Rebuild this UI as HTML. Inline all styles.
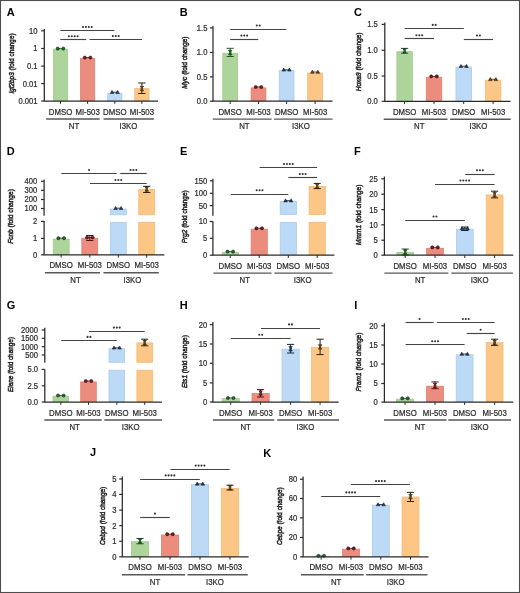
<!DOCTYPE html>
<html><head><meta charset="utf-8"><style>
html,body{margin:0;padding:0;background:#fff;}
svg{display:block;will-change:transform;filter:blur(0.3px);}
text{font-family:"Liberation Sans", sans-serif;fill:#2b2b2b;stroke:#2b2b2b;stroke-width:0.22px;}
.L{font-size:11px;font-weight:bold;fill:#000;stroke:none;}
.T{font-size:8.2px;text-anchor:end;}
.X{font-size:8.4px;text-anchor:middle;}
.S{font-size:7px;text-anchor:middle;fill:#333;stroke:#333;stroke-width:0.3px;}
.Y{font-size:8px;text-anchor:middle;stroke-width:0.55px;}
</style></head><body>
<svg width="520" height="593" viewBox="0 0 520 593">
<rect x="0" y="0" width="520" height="593" fill="#fff"/>
<text x="6.7" y="16.1" class="L">A</text>
<rect x="53.4" y="49.2" width="14.2" height="51.4" fill="#add59b" stroke="#a0cc8b" stroke-width="0.8"/>
<rect x="80.5" y="58.3" width="14.2" height="42.3" fill="#ea8d7e" stroke="#e37f6f" stroke-width="0.8"/>
<rect x="107.7" y="93.2" width="14.2" height="7.4" fill="#bcdaf5" stroke="#aacbed" stroke-width="0.8"/>
<rect x="134.8" y="88.4" width="14.2" height="12.2" fill="#fbc686" stroke="#f6b972" stroke-width="0.8"/>
<path d="M57.5 48.6H63.5" stroke="#1f6b2a" stroke-width="0.9"/>
<circle cx="57.7" cy="48.6" r="1.6" fill="#1f6b2a" stroke="#111" stroke-width="0.5"/>
<circle cx="63.3" cy="48.6" r="1.6" fill="#1f6b2a" stroke="#111" stroke-width="0.5"/>
<path d="M84.6 57.6H90.6" stroke="#7d1518" stroke-width="0.9"/>
<circle cx="84.8" cy="57.6" r="1.6" fill="#7d1518" stroke="#111" stroke-width="0.5"/>
<circle cx="90.4" cy="57.6" r="1.6" fill="#7d1518" stroke="#111" stroke-width="0.5"/>
<path d="M111.8 92.2H117.8" stroke="#1f3d63" stroke-width="0.9"/>
<path d="M110.2 93.5L112 90.4L113.8 93.5Z" fill="#1f3d63" stroke="#111" stroke-width="0.5"/>
<path d="M115.8 93.5L117.6 90.4L119.4 93.5Z" fill="#1f3d63" stroke="#111" stroke-width="0.5"/>
<path d="M141.9 83V93.5M138.3 83H145.5M138.3 93.5H145.5" stroke="#2c2311" stroke-width="1.0" fill="none"/>
<path d="M140.1 86.3L143.7 86.3L141.9 88.5Z M140.1 90.7L143.7 90.7L141.9 88.5Z" fill="#6e4512" stroke="#111" stroke-width="0.5"/>
<circle cx="141.9" cy="88.5" r="1.3" fill="#6e4512"/>
<path d="M44.3 29V101" stroke="#2a2a2a" stroke-width="1.25"/>
<path d="M43.7 101H158" stroke="#2a2a2a" stroke-width="1.25"/>
<path d="M41.2 30.8H44.3" stroke="#2a2a2a" stroke-width="1.2"/>
<text transform="translate(37.5 33.75) scale(0.93 1)" class="T">10</text>
<path d="M41.2 48.5H44.3" stroke="#2a2a2a" stroke-width="1.2"/>
<text transform="translate(37.5 51.45) scale(0.93 1)" class="T">1</text>
<path d="M41.2 66.1H44.3" stroke="#2a2a2a" stroke-width="1.2"/>
<text transform="translate(37.5 69.05) scale(0.93 1)" class="T">0.1</text>
<path d="M41.2 83.6H44.3" stroke="#2a2a2a" stroke-width="1.2"/>
<text transform="translate(37.5 86.55) scale(0.93 1)" class="T">0.01</text>
<path d="M41.2 101H44.3" stroke="#2a2a2a" stroke-width="1.2"/>
<text transform="translate(37.5 103.95) scale(0.93 1)" class="T">0.001</text>
<path d="M60.5 101V103.8" stroke="#2a2a2a" stroke-width="1.0"/>
<path d="M87.6 101V103.8" stroke="#2a2a2a" stroke-width="1.0"/>
<path d="M114.8 101V103.8" stroke="#2a2a2a" stroke-width="1.0"/>
<path d="M141.9 101V103.8" stroke="#2a2a2a" stroke-width="1.0"/>
<text transform="translate(60.5 114.6) scale(0.93 1)" class="X">DMSO</text>
<text transform="translate(87.6 114.6) scale(0.93 1)" class="X">MI-503</text>
<text transform="translate(114.8 114.6) scale(0.93 1)" class="X">DMSO</text>
<text transform="translate(141.9 114.6) scale(0.93 1)" class="X">MI-503</text>
<path d="M46.2 118.9H99.7M103.5 118.9H153.9" stroke="#585858" stroke-width="1.45"/>
<text transform="translate(74.05 128.9) scale(0.93 1)" class="X">NT</text>
<text transform="translate(128.35 128.9) scale(0.93 1)" class="X">I3KO</text>
<path d="M60.3 30.5H114.4" stroke="#444444" stroke-width="1.15"/>
<circle cx="83" cy="27" r="1.05" fill="#333"/>
<circle cx="85.9" cy="27" r="1.05" fill="#333"/>
<circle cx="88.8" cy="27" r="1.05" fill="#333"/>
<circle cx="91.7" cy="27" r="1.05" fill="#333"/>
<path d="M60.3 39.5H86.2" stroke="#444444" stroke-width="1.15"/>
<circle cx="68.9" cy="36.2" r="1.05" fill="#333"/>
<circle cx="71.8" cy="36.2" r="1.05" fill="#333"/>
<circle cx="74.7" cy="36.2" r="1.05" fill="#333"/>
<circle cx="77.6" cy="36.2" r="1.05" fill="#333"/>
<path d="M89.5 39.5H142" stroke="#444444" stroke-width="1.15"/>
<circle cx="112.85" cy="36.1" r="1.05" fill="#333"/>
<circle cx="115.75" cy="36.1" r="1.05" fill="#333"/>
<circle cx="118.65" cy="36.1" r="1.05" fill="#333"/>
<text transform="translate(13.5 63.5) rotate(-90)" x="0" y="0" class="Y" textLength="60.1" lengthAdjust="spacingAndGlyphs"><tspan font-style="italic">Igf2bp3</tspan> (fold change)</text>
<text x="179.7" y="15.9" class="L">B</text>
<rect x="222.8" y="53.3" width="14.8" height="47.5" fill="#add59b" stroke="#a0cc8b" stroke-width="0.8"/>
<rect x="251.1" y="87.9" width="14.8" height="12.9" fill="#ea8d7e" stroke="#e37f6f" stroke-width="0.8"/>
<rect x="279.2" y="70.6" width="14.8" height="30.2" fill="#bcdaf5" stroke="#aacbed" stroke-width="0.8"/>
<rect x="307.7" y="73" width="14.8" height="27.8" fill="#fbc686" stroke="#f6b972" stroke-width="0.8"/>
<path d="M230.2 48.3V56.5M226.6 48.3H233.8M226.6 56.5H233.8" stroke="#1d5a22" stroke-width="1.0" fill="none"/>
<path d="M228.4 50.3L232 50.3L230.2 52.5Z M228.4 54.7L232 54.7L230.2 52.5Z" fill="#1f6b2a" stroke="#111" stroke-width="0.5"/>
<circle cx="230.2" cy="52.5" r="1.3" fill="#1f6b2a"/>
<path d="M255.5 87H261.5" stroke="#7d1518" stroke-width="0.9"/>
<circle cx="255.7" cy="87" r="1.6" fill="#7d1518" stroke="#111" stroke-width="0.5"/>
<circle cx="261.3" cy="87" r="1.6" fill="#7d1518" stroke="#111" stroke-width="0.5"/>
<path d="M283.6 69.8H289.6" stroke="#1f3d63" stroke-width="0.9"/>
<path d="M282 71.1L283.8 68L285.6 71.1Z" fill="#1f3d63" stroke="#111" stroke-width="0.5"/>
<path d="M287.6 71.1L289.4 68L291.2 71.1Z" fill="#1f3d63" stroke="#111" stroke-width="0.5"/>
<path d="M312.1 72H318.1" stroke="#6e4512" stroke-width="0.9"/>
<path d="M310.5 73.3L312.3 70.2L314.1 73.3Z" fill="#6e4512" stroke="#111" stroke-width="0.5"/>
<path d="M316.1 73.3L317.9 70.2L319.7 73.3Z" fill="#6e4512" stroke="#111" stroke-width="0.5"/>
<path d="M213 26V101.2" stroke="#2a2a2a" stroke-width="1.25"/>
<path d="M212.4 101.2H332.5" stroke="#2a2a2a" stroke-width="1.25"/>
<path d="M209.9 27.9H213" stroke="#2a2a2a" stroke-width="1.2"/>
<text transform="translate(207.4 30.85) scale(0.93 1)" class="T">1.5</text>
<path d="M209.9 52.5H213" stroke="#2a2a2a" stroke-width="1.2"/>
<text transform="translate(207.4 55.45) scale(0.93 1)" class="T">1.0</text>
<path d="M209.9 76.9H213" stroke="#2a2a2a" stroke-width="1.2"/>
<text transform="translate(207.4 79.85) scale(0.93 1)" class="T">0.5</text>
<path d="M209.9 101.2H213" stroke="#2a2a2a" stroke-width="1.2"/>
<text transform="translate(207.4 104.15) scale(0.93 1)" class="T">0.0</text>
<path d="M230.2 101.2V104" stroke="#2a2a2a" stroke-width="1.0"/>
<path d="M258.5 101.2V104" stroke="#2a2a2a" stroke-width="1.0"/>
<path d="M286.6 101.2V104" stroke="#2a2a2a" stroke-width="1.0"/>
<path d="M315.1 101.2V104" stroke="#2a2a2a" stroke-width="1.0"/>
<text transform="translate(230.2 114.8) scale(0.93 1)" class="X">DMSO</text>
<text transform="translate(258.5 114.8) scale(0.93 1)" class="X">MI-503</text>
<text transform="translate(286.6 114.8) scale(0.93 1)" class="X">DMSO</text>
<text transform="translate(315.1 114.8) scale(0.93 1)" class="X">MI-503</text>
<path d="M212.8 119.1H271.6M274 119.1H332.6" stroke="#585858" stroke-width="1.45"/>
<text transform="translate(244.35 129.1) scale(0.93 1)" class="X">NT</text>
<text transform="translate(300.85 129.1) scale(0.93 1)" class="X">I3KO</text>
<path d="M230.2 39.5H258.3" stroke="#444444" stroke-width="1.15"/>
<circle cx="241.35" cy="35.6" r="1.05" fill="#333"/>
<circle cx="244.25" cy="35.6" r="1.05" fill="#333"/>
<circle cx="247.15" cy="35.6" r="1.05" fill="#333"/>
<path d="M230.2 29.5H286.3" stroke="#444444" stroke-width="1.15"/>
<circle cx="256.8" cy="25.5" r="1.05" fill="#333"/>
<circle cx="259.7" cy="25.5" r="1.05" fill="#333"/>
<text transform="translate(187.3 62.6) rotate(-90)" x="0" y="0" class="Y" textLength="52.2" lengthAdjust="spacingAndGlyphs"><tspan font-style="italic">Myc</tspan> (fold change)</text>
<text x="353.9" y="16.4" class="L">C</text>
<rect x="396.85" y="51.7" width="15.5" height="49.2" fill="#add59b" stroke="#a0cc8b" stroke-width="0.8"/>
<rect x="426.25" y="77.3" width="15.5" height="23.6" fill="#ea8d7e" stroke="#e37f6f" stroke-width="0.8"/>
<rect x="455.95" y="67.1" width="15.5" height="33.8" fill="#bcdaf5" stroke="#aacbed" stroke-width="0.8"/>
<rect x="485.35" y="80.2" width="15.5" height="20.7" fill="#fbc686" stroke="#f6b972" stroke-width="0.8"/>
<path d="M404.6 48.4V53.2M401 48.4H408.2M401 53.2H408.2" stroke="#1d5a22" stroke-width="1.0" fill="none"/>
<path d="M402.8 48.6L406.4 48.6L404.6 50.8Z M402.8 53L406.4 53L404.6 50.8Z" fill="#1f6b2a" stroke="#111" stroke-width="0.5"/>
<circle cx="404.6" cy="50.8" r="1.3" fill="#1f6b2a"/>
<path d="M431 76.4H437" stroke="#7d1518" stroke-width="0.9"/>
<circle cx="431.2" cy="76.4" r="1.6" fill="#7d1518" stroke="#111" stroke-width="0.5"/>
<circle cx="436.8" cy="76.4" r="1.6" fill="#7d1518" stroke="#111" stroke-width="0.5"/>
<path d="M460.7 66.2H466.7" stroke="#1f3d63" stroke-width="0.9"/>
<path d="M459.1 67.5L460.9 64.4L462.7 67.5Z" fill="#1f3d63" stroke="#111" stroke-width="0.5"/>
<path d="M464.7 67.5L466.5 64.4L468.3 67.5Z" fill="#1f3d63" stroke="#111" stroke-width="0.5"/>
<path d="M490.1 79.3H496.1" stroke="#6e4512" stroke-width="0.9"/>
<path d="M488.5 80.6L490.3 77.5L492.1 80.6Z" fill="#6e4512" stroke="#111" stroke-width="0.5"/>
<path d="M494.1 80.6L495.9 77.5L497.7 80.6Z" fill="#6e4512" stroke="#111" stroke-width="0.5"/>
<path d="M384.8 22.5V101.3" stroke="#2a2a2a" stroke-width="1.25"/>
<path d="M384.2 101.3H510.4" stroke="#2a2a2a" stroke-width="1.25"/>
<path d="M381.7 24.4H384.8" stroke="#2a2a2a" stroke-width="1.2"/>
<text transform="translate(377.8 27.35) scale(0.93 1)" class="T">1.5</text>
<path d="M381.7 50.3H384.8" stroke="#2a2a2a" stroke-width="1.2"/>
<text transform="translate(377.8 53.25) scale(0.93 1)" class="T">1.0</text>
<path d="M381.7 76H384.8" stroke="#2a2a2a" stroke-width="1.2"/>
<text transform="translate(377.8 78.95) scale(0.93 1)" class="T">0.5</text>
<path d="M381.7 101.3H384.8" stroke="#2a2a2a" stroke-width="1.2"/>
<text transform="translate(377.8 104.25) scale(0.93 1)" class="T">0.0</text>
<path d="M404.6 101.3V104.1" stroke="#2a2a2a" stroke-width="1.0"/>
<path d="M434 101.3V104.1" stroke="#2a2a2a" stroke-width="1.0"/>
<path d="M463.7 101.3V104.1" stroke="#2a2a2a" stroke-width="1.0"/>
<path d="M493.1 101.3V104.1" stroke="#2a2a2a" stroke-width="1.0"/>
<text transform="translate(404.6 114.9) scale(0.93 1)" class="X">DMSO</text>
<text transform="translate(434 114.9) scale(0.93 1)" class="X">MI-503</text>
<text transform="translate(463.7 114.9) scale(0.93 1)" class="X">DMSO</text>
<text transform="translate(493.1 114.9) scale(0.93 1)" class="X">MI-503</text>
<path d="M383.7 119.2H447.5M450.1 119.2H510.7" stroke="#585858" stroke-width="1.45"/>
<text transform="translate(419.3 129.2) scale(0.93 1)" class="X">NT</text>
<text transform="translate(478.4 129.2) scale(0.93 1)" class="X">I3KO</text>
<path d="M404.6 28.5H463.8" stroke="#444444" stroke-width="1.15"/>
<circle cx="432.75" cy="24.9" r="1.05" fill="#333"/>
<circle cx="435.65" cy="24.9" r="1.05" fill="#333"/>
<path d="M404.6 38.5H434" stroke="#444444" stroke-width="1.15"/>
<circle cx="416.4" cy="35.3" r="1.05" fill="#333"/>
<circle cx="419.3" cy="35.3" r="1.05" fill="#333"/>
<circle cx="422.2" cy="35.3" r="1.05" fill="#333"/>
<path d="M463.8 39.5H493" stroke="#444444" stroke-width="1.15"/>
<circle cx="476.95" cy="35.5" r="1.05" fill="#333"/>
<circle cx="479.85" cy="35.5" r="1.05" fill="#333"/>
<text transform="translate(360.7 61.9) rotate(-90)" x="0" y="0" class="Y" textLength="58.7" lengthAdjust="spacingAndGlyphs"><tspan font-style="italic">Hoxa9</tspan> (fold change)</text>
<text x="6.7" y="155.1" class="L">D</text>
<rect x="53.25" y="239.1" width="15.9" height="15.3" fill="#add59b" stroke="#a0cc8b" stroke-width="0.8"/>
<rect x="81.85" y="238.3" width="15.9" height="16.1" fill="#ea8d7e" stroke="#e37f6f" stroke-width="0.8"/>
<rect x="110.35" y="209.1" width="15.9" height="5.7" fill="#bcdaf5" stroke="#aacbed" stroke-width="0.8"/>
<rect x="110.35" y="222.3" width="15.9" height="32.1" fill="#bcdaf5" stroke="#aacbed" stroke-width="0.8"/>
<rect x="138.75" y="189.6" width="15.9" height="25.2" fill="#fbc686" stroke="#f6b972" stroke-width="0.8"/>
<rect x="138.75" y="222.3" width="15.9" height="32.1" fill="#fbc686" stroke="#f6b972" stroke-width="0.8"/>
<path d="M58.2 238.2H64.2" stroke="#1f6b2a" stroke-width="0.9"/>
<circle cx="58.4" cy="238.2" r="1.6" fill="#1f6b2a" stroke="#111" stroke-width="0.5"/>
<circle cx="64" cy="238.2" r="1.6" fill="#1f6b2a" stroke="#111" stroke-width="0.5"/>
<path d="M89.8 235.5V240.5M86.2 235.5H93.4M86.2 240.5H93.4" stroke="#561012" stroke-width="1.0" fill="none"/>
<path d="M86.8 237.5H92.8" stroke="#7d1518" stroke-width="0.9"/>
<circle cx="87" cy="237.5" r="1.6" fill="#7d1518" stroke="#111" stroke-width="0.5"/>
<circle cx="92.6" cy="237.5" r="1.6" fill="#7d1518" stroke="#111" stroke-width="0.5"/>
<path d="M115.3 208.2H121.3" stroke="#1f3d63" stroke-width="0.9"/>
<path d="M113.7 209.5L115.5 206.4L117.3 209.5Z" fill="#1f3d63" stroke="#111" stroke-width="0.5"/>
<path d="M119.3 209.5L121.1 206.4L122.9 209.5Z" fill="#1f3d63" stroke="#111" stroke-width="0.5"/>
<path d="M146.7 186.3V192.5M143.1 186.3H150.3M143.1 192.5H150.3" stroke="#2c2311" stroke-width="1.0" fill="none"/>
<path d="M144.9 186.8L148.5 186.8L146.7 189Z M144.9 191.2L148.5 191.2L146.7 189Z" fill="#6e4512" stroke="#111" stroke-width="0.5"/>
<circle cx="146.7" cy="189" r="1.3" fill="#6e4512"/>
<path d="M44.1 179.6V215.7" stroke="#2a2a2a" stroke-width="1.25"/>
<path d="M44.1 221V254.8" stroke="#2a2a2a" stroke-width="1.25"/>
<path d="M43.5 254.8H164.4" stroke="#2a2a2a" stroke-width="1.25"/>
<path d="M41 181.3H44.1" stroke="#2a2a2a" stroke-width="1.2"/>
<text transform="translate(37.3 184.25) scale(0.93 1)" class="T">400</text>
<path d="M41 190.3H44.1" stroke="#2a2a2a" stroke-width="1.2"/>
<text transform="translate(37.3 193.25) scale(0.93 1)" class="T">300</text>
<path d="M41 199.5H44.1" stroke="#2a2a2a" stroke-width="1.2"/>
<text transform="translate(37.3 202.45) scale(0.93 1)" class="T">200</text>
<path d="M41 208.5H44.1" stroke="#2a2a2a" stroke-width="1.2"/>
<text transform="translate(37.3 211.45) scale(0.93 1)" class="T">100</text>
<path d="M41 221.4H44.1" stroke="#2a2a2a" stroke-width="1.2"/>
<text transform="translate(37.3 224.35) scale(0.93 1)" class="T">2</text>
<path d="M41 238.4H44.1" stroke="#2a2a2a" stroke-width="1.2"/>
<text transform="translate(37.3 241.35) scale(0.93 1)" class="T">1</text>
<path d="M41 254.8H44.1" stroke="#2a2a2a" stroke-width="1.2"/>
<text transform="translate(37.3 257.75) scale(0.93 1)" class="T">0</text>
<path d="M61.2 254.8V257.6" stroke="#2a2a2a" stroke-width="1.0"/>
<path d="M89.8 254.8V257.6" stroke="#2a2a2a" stroke-width="1.0"/>
<path d="M118.3 254.8V257.6" stroke="#2a2a2a" stroke-width="1.0"/>
<path d="M146.7 254.8V257.6" stroke="#2a2a2a" stroke-width="1.0"/>
<text transform="translate(61.2 268.4) scale(0.93 1)" class="X">DMSO</text>
<text transform="translate(89.8 268.4) scale(0.93 1)" class="X">MI-503</text>
<text transform="translate(118.3 268.4) scale(0.93 1)" class="X">DMSO</text>
<text transform="translate(146.7 268.4) scale(0.93 1)" class="X">MI-503</text>
<path d="M44.9 272.7H100M103.4 272.7H158.8" stroke="#585858" stroke-width="1.45"/>
<text transform="translate(75.5 282.7) scale(0.93 1)" class="X">NT</text>
<text transform="translate(132.5 282.7) scale(0.93 1)" class="X">I3KO</text>
<path d="M61.4 173.5H116.7" stroke="#444444" stroke-width="1.15"/>
<circle cx="89.05" cy="170" r="1.05" fill="#333"/>
<path d="M120.2 173.5H146.7" stroke="#444444" stroke-width="1.15"/>
<circle cx="130.55" cy="170" r="1.05" fill="#333"/>
<circle cx="133.45" cy="170" r="1.05" fill="#333"/>
<circle cx="136.35" cy="170" r="1.05" fill="#333"/>
<path d="M90 183.5H146.7" stroke="#444444" stroke-width="1.15"/>
<circle cx="115.45" cy="180" r="1.05" fill="#333"/>
<circle cx="118.35" cy="180" r="1.05" fill="#333"/>
<circle cx="121.25" cy="180" r="1.05" fill="#333"/>
<text transform="translate(13.2 216.5) rotate(-90)" x="0" y="0" class="Y" textLength="54.7" lengthAdjust="spacingAndGlyphs"><tspan font-style="italic">Fcnb</tspan> (fold change)</text>
<text x="179.9" y="155.2" class="L">E</text>
<rect x="222.2" y="252.4" width="16.2" height="2.4" fill="#add59b" stroke="#a0cc8b" stroke-width="0.8"/>
<rect x="251.1" y="229.2" width="16.2" height="25.6" fill="#ea8d7e" stroke="#e37f6f" stroke-width="0.8"/>
<rect x="280.2" y="201.4" width="16.2" height="13" fill="#bcdaf5" stroke="#aacbed" stroke-width="0.8"/>
<rect x="280.2" y="222.3" width="16.2" height="32.5" fill="#bcdaf5" stroke="#aacbed" stroke-width="0.8"/>
<rect x="309.1" y="186.4" width="16.2" height="28" fill="#fbc686" stroke="#f6b972" stroke-width="0.8"/>
<rect x="309.1" y="222.3" width="16.2" height="32.5" fill="#fbc686" stroke="#f6b972" stroke-width="0.8"/>
<path d="M227.3 251.6H233.3" stroke="#1f6b2a" stroke-width="0.9"/>
<circle cx="227.5" cy="251.6" r="1.6" fill="#1f6b2a" stroke="#111" stroke-width="0.5"/>
<circle cx="233.1" cy="251.6" r="1.6" fill="#1f6b2a" stroke="#111" stroke-width="0.5"/>
<path d="M256.2 228.3H262.2" stroke="#7d1518" stroke-width="0.9"/>
<circle cx="256.4" cy="228.3" r="1.6" fill="#7d1518" stroke="#111" stroke-width="0.5"/>
<circle cx="262" cy="228.3" r="1.6" fill="#7d1518" stroke="#111" stroke-width="0.5"/>
<path d="M285.3 200.6H291.3" stroke="#1f3d63" stroke-width="0.9"/>
<path d="M283.7 201.9L285.5 198.8L287.3 201.9Z" fill="#1f3d63" stroke="#111" stroke-width="0.5"/>
<path d="M289.3 201.9L291.1 198.8L292.9 201.9Z" fill="#1f3d63" stroke="#111" stroke-width="0.5"/>
<path d="M317.2 183.4V188.6M313.6 183.4H320.8M313.6 188.6H320.8" stroke="#2c2311" stroke-width="1.0" fill="none"/>
<path d="M315.4 183.8L319 183.8L317.2 186Z M315.4 188.2L319 188.2L317.2 186Z" fill="#6e4512" stroke="#111" stroke-width="0.5"/>
<circle cx="317.2" cy="186" r="1.3" fill="#6e4512"/>
<path d="M212.9 178.8V215.8" stroke="#2a2a2a" stroke-width="1.25"/>
<path d="M212.9 221.2V255.2" stroke="#2a2a2a" stroke-width="1.25"/>
<path d="M212.3 255.2H334.4" stroke="#2a2a2a" stroke-width="1.25"/>
<path d="M209.8 180.8H212.9" stroke="#2a2a2a" stroke-width="1.2"/>
<text transform="translate(207.3 183.75) scale(0.93 1)" class="T">150</text>
<path d="M209.8 193.3H212.9" stroke="#2a2a2a" stroke-width="1.2"/>
<text transform="translate(207.3 196.25) scale(0.93 1)" class="T">100</text>
<path d="M209.8 205.6H212.9" stroke="#2a2a2a" stroke-width="1.2"/>
<text transform="translate(207.3 208.55) scale(0.93 1)" class="T">50</text>
<path d="M209.8 221.5H212.9" stroke="#2a2a2a" stroke-width="1.2"/>
<text transform="translate(207.3 224.45) scale(0.93 1)" class="T">10</text>
<path d="M209.8 238.3H212.9" stroke="#2a2a2a" stroke-width="1.2"/>
<text transform="translate(207.3 241.25) scale(0.93 1)" class="T">5</text>
<path d="M209.8 255.2H212.9" stroke="#2a2a2a" stroke-width="1.2"/>
<text transform="translate(207.3 258.15) scale(0.93 1)" class="T">0</text>
<path d="M230.3 255.2V258" stroke="#2a2a2a" stroke-width="1.0"/>
<path d="M259.2 255.2V258" stroke="#2a2a2a" stroke-width="1.0"/>
<path d="M288.3 255.2V258" stroke="#2a2a2a" stroke-width="1.0"/>
<path d="M317.2 255.2V258" stroke="#2a2a2a" stroke-width="1.0"/>
<text transform="translate(230.3 268.8) scale(0.93 1)" class="X">DMSO</text>
<text transform="translate(259.2 268.8) scale(0.93 1)" class="X">MI-503</text>
<text transform="translate(288.3 268.8) scale(0.93 1)" class="X">DMSO</text>
<text transform="translate(317.2 268.8) scale(0.93 1)" class="X">MI-503</text>
<path d="M213.3 273.1H271.5M274.4 273.1H332.5" stroke="#585858" stroke-width="1.45"/>
<text transform="translate(244.75 283.1) scale(0.93 1)" class="X">NT</text>
<text transform="translate(302.75 283.1) scale(0.93 1)" class="X">I3KO</text>
<path d="M230.8 194.5H288.3" stroke="#444444" stroke-width="1.15"/>
<circle cx="256.65" cy="190.3" r="1.05" fill="#333"/>
<circle cx="259.55" cy="190.3" r="1.05" fill="#333"/>
<circle cx="262.45" cy="190.3" r="1.05" fill="#333"/>
<path d="M259.6 167.5H317.1" stroke="#444444" stroke-width="1.15"/>
<circle cx="284" cy="164" r="1.05" fill="#333"/>
<circle cx="286.9" cy="164" r="1.05" fill="#333"/>
<circle cx="289.8" cy="164" r="1.05" fill="#333"/>
<circle cx="292.7" cy="164" r="1.05" fill="#333"/>
<path d="M288.3 177.5H317.1" stroke="#444444" stroke-width="1.15"/>
<circle cx="299.8" cy="174" r="1.05" fill="#333"/>
<circle cx="302.7" cy="174" r="1.05" fill="#333"/>
<circle cx="305.6" cy="174" r="1.05" fill="#333"/>
<text transform="translate(186.7 216.8) rotate(-90)" x="0" y="0" class="Y" textLength="52.9" lengthAdjust="spacingAndGlyphs"><tspan font-style="italic">Prg2</tspan> (fold change)</text>
<text x="353.9" y="155.2" class="L">F</text>
<rect x="396.8" y="252.4" width="16.8" height="2.4" fill="#add59b" stroke="#a0cc8b" stroke-width="0.8"/>
<rect x="426.6" y="248.3" width="16.8" height="6.5" fill="#ea8d7e" stroke="#e37f6f" stroke-width="0.8"/>
<rect x="456.4" y="229.2" width="16.8" height="25.6" fill="#bcdaf5" stroke="#aacbed" stroke-width="0.8"/>
<rect x="486.2" y="195" width="16.8" height="59.8" fill="#fbc686" stroke="#f6b972" stroke-width="0.8"/>
<path d="M405.2 249V255M401.6 249H408.8M401.6 255H408.8" stroke="#1d5a22" stroke-width="1.0" fill="none"/>
<path d="M403.4 249.8L407 249.8L405.2 252Z M403.4 254.2L407 254.2L405.2 252Z" fill="#1f6b2a" stroke="#111" stroke-width="0.5"/>
<circle cx="405.2" cy="252" r="1.3" fill="#1f6b2a"/>
<path d="M432 247.4H438" stroke="#7d1518" stroke-width="0.9"/>
<circle cx="432.2" cy="247.4" r="1.6" fill="#7d1518" stroke="#111" stroke-width="0.5"/>
<circle cx="437.8" cy="247.4" r="1.6" fill="#7d1518" stroke="#111" stroke-width="0.5"/>
<path d="M464.8 227V230.5M461.2 227H468.4M461.2 230.5H468.4" stroke="#1a2738" stroke-width="1.0" fill="none"/>
<path d="M461.8 228.5H467.8" stroke="#1f3d63" stroke-width="0.9"/>
<path d="M460.2 229.8L462 226.7L463.8 229.8Z" fill="#1f3d63" stroke="#111" stroke-width="0.5"/>
<path d="M465.8 229.8L467.6 226.7L469.4 229.8Z" fill="#1f3d63" stroke="#111" stroke-width="0.5"/>
<path d="M494.6 191.2V197.9M491 191.2H498.2M491 197.9H498.2" stroke="#2c2311" stroke-width="1.0" fill="none"/>
<path d="M492.8 192.4L496.4 192.4L494.6 194.6Z M492.8 196.8L496.4 196.8L494.6 194.6Z" fill="#6e4512" stroke="#111" stroke-width="0.5"/>
<circle cx="494.6" cy="194.6" r="1.3" fill="#6e4512"/>
<path d="M384.4 176.5V255.2" stroke="#2a2a2a" stroke-width="1.25"/>
<path d="M383.8 255.2H513.3" stroke="#2a2a2a" stroke-width="1.25"/>
<path d="M381.3 178.8H384.4" stroke="#2a2a2a" stroke-width="1.2"/>
<text transform="translate(377.7 181.75) scale(0.93 1)" class="T">25</text>
<path d="M381.3 194.2H384.4" stroke="#2a2a2a" stroke-width="1.2"/>
<text transform="translate(377.7 197.15) scale(0.93 1)" class="T">20</text>
<path d="M381.3 209.6H384.4" stroke="#2a2a2a" stroke-width="1.2"/>
<text transform="translate(377.7 212.55) scale(0.93 1)" class="T">15</text>
<path d="M381.3 224.8H384.4" stroke="#2a2a2a" stroke-width="1.2"/>
<text transform="translate(377.7 227.75) scale(0.93 1)" class="T">10</text>
<path d="M381.3 240.2H384.4" stroke="#2a2a2a" stroke-width="1.2"/>
<text transform="translate(377.7 243.15) scale(0.93 1)" class="T">5</text>
<path d="M381.3 255.2H384.4" stroke="#2a2a2a" stroke-width="1.2"/>
<text transform="translate(377.7 258.15) scale(0.93 1)" class="T">0</text>
<path d="M405.2 255.2V258" stroke="#2a2a2a" stroke-width="1.0"/>
<path d="M435 255.2V258" stroke="#2a2a2a" stroke-width="1.0"/>
<path d="M464.8 255.2V258" stroke="#2a2a2a" stroke-width="1.0"/>
<path d="M494.6 255.2V258" stroke="#2a2a2a" stroke-width="1.0"/>
<text transform="translate(405.2 268.8) scale(0.93 1)" class="X">DMSO</text>
<text transform="translate(435 268.8) scale(0.93 1)" class="X">MI-503</text>
<text transform="translate(464.8 268.8) scale(0.93 1)" class="X">DMSO</text>
<text transform="translate(494.6 268.8) scale(0.93 1)" class="X">MI-503</text>
<path d="M384.4 273.1H448.4M451.3 273.1H512.9" stroke="#585858" stroke-width="1.45"/>
<text transform="translate(420.1 283.1) scale(0.93 1)" class="X">NT</text>
<text transform="translate(479.7 283.1) scale(0.93 1)" class="X">I3KO</text>
<path d="M405.2 220.5H464.8" stroke="#444444" stroke-width="1.15"/>
<circle cx="433.55" cy="216.5" r="1.05" fill="#333"/>
<circle cx="436.45" cy="216.5" r="1.05" fill="#333"/>
<path d="M435 184.5H494.6" stroke="#444444" stroke-width="1.15"/>
<circle cx="460.45" cy="180.5" r="1.05" fill="#333"/>
<circle cx="463.35" cy="180.5" r="1.05" fill="#333"/>
<circle cx="466.25" cy="180.5" r="1.05" fill="#333"/>
<circle cx="469.15" cy="180.5" r="1.05" fill="#333"/>
<path d="M465.2 174.5H494.6" stroke="#444444" stroke-width="1.15"/>
<circle cx="477" cy="170.3" r="1.05" fill="#333"/>
<circle cx="479.9" cy="170.3" r="1.05" fill="#333"/>
<circle cx="482.8" cy="170.3" r="1.05" fill="#333"/>
<text transform="translate(361.1 215) rotate(-90)" x="0" y="0" class="Y" textLength="60.7" lengthAdjust="spacingAndGlyphs"><tspan font-style="italic">Mmrn1</tspan> (fold change)</text>
<text x="6.7" y="309.4" class="L">G</text>
<rect x="53" y="396.2" width="15.6" height="5.4" fill="#add59b" stroke="#a0cc8b" stroke-width="0.8"/>
<rect x="80.7" y="381.9" width="15.6" height="19.7" fill="#ea8d7e" stroke="#e37f6f" stroke-width="0.8"/>
<rect x="109" y="348.7" width="15.6" height="13.6" fill="#bcdaf5" stroke="#aacbed" stroke-width="0.8"/>
<rect x="109" y="370.2" width="15.6" height="31.4" fill="#bcdaf5" stroke="#aacbed" stroke-width="0.8"/>
<rect x="136.9" y="342.9" width="15.6" height="19.4" fill="#fbc686" stroke="#f6b972" stroke-width="0.8"/>
<rect x="136.9" y="370.2" width="15.6" height="31.4" fill="#fbc686" stroke="#f6b972" stroke-width="0.8"/>
<path d="M57.8 395.5H63.8" stroke="#1f6b2a" stroke-width="0.9"/>
<circle cx="58" cy="395.5" r="1.6" fill="#1f6b2a" stroke="#111" stroke-width="0.5"/>
<circle cx="63.6" cy="395.5" r="1.6" fill="#1f6b2a" stroke="#111" stroke-width="0.5"/>
<path d="M85.5 381H91.5" stroke="#7d1518" stroke-width="0.9"/>
<circle cx="85.7" cy="381" r="1.6" fill="#7d1518" stroke="#111" stroke-width="0.5"/>
<circle cx="91.3" cy="381" r="1.6" fill="#7d1518" stroke="#111" stroke-width="0.5"/>
<path d="M113.8 347.8H119.8" stroke="#1f3d63" stroke-width="0.9"/>
<path d="M112.2 349.1L114 346L115.8 349.1Z" fill="#1f3d63" stroke="#111" stroke-width="0.5"/>
<path d="M117.8 349.1L119.6 346L121.4 349.1Z" fill="#1f3d63" stroke="#111" stroke-width="0.5"/>
<path d="M144.7 339.2V345.8M141.1 339.2H148.3M141.1 345.8H148.3" stroke="#2c2311" stroke-width="1.0" fill="none"/>
<path d="M142.9 340.3L146.5 340.3L144.7 342.5Z M142.9 344.7L146.5 344.7L144.7 342.5Z" fill="#6e4512" stroke="#111" stroke-width="0.5"/>
<circle cx="144.7" cy="342.5" r="1.3" fill="#6e4512"/>
<path d="M44.8 327.7V362.7" stroke="#2a2a2a" stroke-width="1.25"/>
<path d="M44.8 369.4V402" stroke="#2a2a2a" stroke-width="1.25"/>
<path d="M44.2 402H161.9" stroke="#2a2a2a" stroke-width="1.25"/>
<path d="M41.7 330H44.8" stroke="#2a2a2a" stroke-width="1.2"/>
<text transform="translate(38 332.95) scale(0.93 1)" class="T">2000</text>
<path d="M41.7 338.3H44.8" stroke="#2a2a2a" stroke-width="1.2"/>
<text transform="translate(38 341.25) scale(0.93 1)" class="T">1500</text>
<path d="M41.7 346.7H44.8" stroke="#2a2a2a" stroke-width="1.2"/>
<text transform="translate(38 349.65) scale(0.93 1)" class="T">1000</text>
<path d="M41.7 355H44.8" stroke="#2a2a2a" stroke-width="1.2"/>
<text transform="translate(38 357.95) scale(0.93 1)" class="T">500</text>
<path d="M41.7 369.4H44.8" stroke="#2a2a2a" stroke-width="1.2"/>
<text transform="translate(38 372.35) scale(0.93 1)" class="T">5.0</text>
<path d="M41.7 385.8H44.8" stroke="#2a2a2a" stroke-width="1.2"/>
<text transform="translate(38 388.75) scale(0.93 1)" class="T">2.5</text>
<path d="M41.7 402H44.8" stroke="#2a2a2a" stroke-width="1.2"/>
<text transform="translate(38 404.95) scale(0.93 1)" class="T">0.0</text>
<path d="M60.8 402V404.8" stroke="#2a2a2a" stroke-width="1.0"/>
<path d="M88.5 402V404.8" stroke="#2a2a2a" stroke-width="1.0"/>
<path d="M116.8 402V404.8" stroke="#2a2a2a" stroke-width="1.0"/>
<path d="M144.7 402V404.8" stroke="#2a2a2a" stroke-width="1.0"/>
<text transform="translate(60.8 415.6) scale(0.93 1)" class="X">DMSO</text>
<text transform="translate(88.5 415.6) scale(0.93 1)" class="X">MI-503</text>
<text transform="translate(116.8 415.6) scale(0.93 1)" class="X">DMSO</text>
<text transform="translate(144.7 415.6) scale(0.93 1)" class="X">MI-503</text>
<path d="M44.4 419.9H101.7M104.3 419.9H162" stroke="#585858" stroke-width="1.45"/>
<text transform="translate(74.65 429.9) scale(0.93 1)" class="X">NT</text>
<text transform="translate(130.75 429.9) scale(0.93 1)" class="X">I3KO</text>
<path d="M61.2 340.5H116.7" stroke="#444444" stroke-width="1.15"/>
<circle cx="87.5" cy="336.9" r="1.05" fill="#333"/>
<circle cx="90.4" cy="336.9" r="1.05" fill="#333"/>
<path d="M89 331.5H144.6" stroke="#444444" stroke-width="1.15"/>
<circle cx="113.9" cy="327.6" r="1.05" fill="#333"/>
<circle cx="116.8" cy="327.6" r="1.05" fill="#333"/>
<circle cx="119.7" cy="327.6" r="1.05" fill="#333"/>
<text transform="translate(13.2 364.6) rotate(-90)" x="0" y="0" class="Y" textLength="54.7" lengthAdjust="spacingAndGlyphs"><tspan font-style="italic">Elane</tspan> (fold change)</text>
<text x="179.7" y="309.4" class="L">H</text>
<rect x="222.1" y="398.7" width="17.2" height="2.9" fill="#add59b" stroke="#a0cc8b" stroke-width="0.8"/>
<rect x="252" y="393.5" width="17.2" height="8.1" fill="#ea8d7e" stroke="#e37f6f" stroke-width="0.8"/>
<rect x="282" y="349.2" width="17.2" height="52.4" fill="#bcdaf5" stroke="#aacbed" stroke-width="0.8"/>
<rect x="311.5" y="347.3" width="17.2" height="54.3" fill="#fbc686" stroke="#f6b972" stroke-width="0.8"/>
<path d="M227.7 398H233.7" stroke="#1f6b2a" stroke-width="0.9"/>
<circle cx="227.9" cy="398" r="1.6" fill="#1f6b2a" stroke="#111" stroke-width="0.5"/>
<circle cx="233.5" cy="398" r="1.6" fill="#1f6b2a" stroke="#111" stroke-width="0.5"/>
<path d="M260.6 389.6V397M257 389.6H264.2M257 397H264.2" stroke="#561012" stroke-width="1.0" fill="none"/>
<path d="M258.8 390.8L262.4 390.8L260.6 393Z M258.8 395.2L262.4 395.2L260.6 393Z" fill="#7d1518" stroke="#111" stroke-width="0.5"/>
<circle cx="260.6" cy="393" r="1.3" fill="#7d1518"/>
<path d="M290.6 344.4V353M287 344.4H294.2M287 353H294.2" stroke="#1a2738" stroke-width="1.0" fill="none"/>
<path d="M288.8 346.6L292.4 346.6L290.6 348.8Z M288.8 351L292.4 351L290.6 348.8Z" fill="#1f3d63" stroke="#111" stroke-width="0.5"/>
<circle cx="290.6" cy="348.8" r="1.3" fill="#1f3d63"/>
<path d="M320.1 339.2V354.6M316.5 339.2H323.7M316.5 354.6H323.7" stroke="#2c2311" stroke-width="1.0" fill="none"/>
<path d="M318.3 344.7L321.9 344.7L320.1 346.9Z M318.3 349.1L321.9 349.1L320.1 346.9Z" fill="#6e4512" stroke="#111" stroke-width="0.5"/>
<circle cx="320.1" cy="346.9" r="1.3" fill="#6e4512"/>
<path d="M212.9 322V402" stroke="#2a2a2a" stroke-width="1.25"/>
<path d="M212.3 402H338.7" stroke="#2a2a2a" stroke-width="1.25"/>
<path d="M209.8 324.6H212.9" stroke="#2a2a2a" stroke-width="1.2"/>
<text transform="translate(207.3 327.55) scale(0.93 1)" class="T">20</text>
<path d="M209.8 344H212.9" stroke="#2a2a2a" stroke-width="1.2"/>
<text transform="translate(207.3 346.95) scale(0.93 1)" class="T">15</text>
<path d="M209.8 363.3H212.9" stroke="#2a2a2a" stroke-width="1.2"/>
<text transform="translate(207.3 366.25) scale(0.93 1)" class="T">10</text>
<path d="M209.8 382.9H212.9" stroke="#2a2a2a" stroke-width="1.2"/>
<text transform="translate(207.3 385.85) scale(0.93 1)" class="T">5</text>
<path d="M209.8 402H212.9" stroke="#2a2a2a" stroke-width="1.2"/>
<text transform="translate(207.3 404.95) scale(0.93 1)" class="T">0</text>
<path d="M230.7 402V404.8" stroke="#2a2a2a" stroke-width="1.0"/>
<path d="M260.6 402V404.8" stroke="#2a2a2a" stroke-width="1.0"/>
<path d="M290.6 402V404.8" stroke="#2a2a2a" stroke-width="1.0"/>
<path d="M320.1 402V404.8" stroke="#2a2a2a" stroke-width="1.0"/>
<text transform="translate(230.7 415.6) scale(0.93 1)" class="X">DMSO</text>
<text transform="translate(260.6 415.6) scale(0.93 1)" class="X">MI-503</text>
<text transform="translate(290.6 415.6) scale(0.93 1)" class="X">DMSO</text>
<text transform="translate(320.1 415.6) scale(0.93 1)" class="X">MI-503</text>
<path d="M212.9 419.9H274.3M277.2 419.9H339" stroke="#585858" stroke-width="1.45"/>
<text transform="translate(245.65 429.9) scale(0.93 1)" class="X">NT</text>
<text transform="translate(305.35 429.9) scale(0.93 1)" class="X">I3KO</text>
<path d="M230.8 338.5H290.6" stroke="#444444" stroke-width="1.15"/>
<circle cx="259.25" cy="334.8" r="1.05" fill="#333"/>
<circle cx="262.15" cy="334.8" r="1.05" fill="#333"/>
<path d="M261 328.5H320" stroke="#444444" stroke-width="1.15"/>
<circle cx="289.05" cy="324.4" r="1.05" fill="#333"/>
<circle cx="291.95" cy="324.4" r="1.05" fill="#333"/>
<text transform="translate(186.6 361.6) rotate(-90)" x="0" y="0" class="Y" textLength="52.9" lengthAdjust="spacingAndGlyphs"><tspan font-style="italic">Ets1</tspan> (fold change)</text>
<text x="354.3" y="309.2" class="L">I</text>
<rect x="396.6" y="399.1" width="16.8" height="2.6" fill="#add59b" stroke="#a0cc8b" stroke-width="0.8"/>
<rect x="426.6" y="386.2" width="16.8" height="15.5" fill="#ea8d7e" stroke="#e37f6f" stroke-width="0.8"/>
<rect x="456.2" y="354.8" width="16.8" height="46.9" fill="#bcdaf5" stroke="#aacbed" stroke-width="0.8"/>
<rect x="486.2" y="342.5" width="16.8" height="59.2" fill="#fbc686" stroke="#f6b972" stroke-width="0.8"/>
<path d="M402 398.4H408" stroke="#1f6b2a" stroke-width="0.9"/>
<circle cx="402.2" cy="398.4" r="1.6" fill="#1f6b2a" stroke="#111" stroke-width="0.5"/>
<circle cx="407.8" cy="398.4" r="1.6" fill="#1f6b2a" stroke="#111" stroke-width="0.5"/>
<path d="M435 381.9V388.7M431.4 381.9H438.6M431.4 388.7H438.6" stroke="#561012" stroke-width="1.0" fill="none"/>
<path d="M433.2 383.3L436.8 383.3L435 385.5Z M433.2 387.7L436.8 387.7L435 385.5Z" fill="#7d1518" stroke="#111" stroke-width="0.5"/>
<circle cx="435" cy="385.5" r="1.3" fill="#7d1518"/>
<path d="M461.6 354H467.6" stroke="#1f3d63" stroke-width="0.9"/>
<path d="M460 355.3L461.8 352.2L463.6 355.3Z" fill="#1f3d63" stroke="#111" stroke-width="0.5"/>
<path d="M465.6 355.3L467.4 352.2L469.2 355.3Z" fill="#1f3d63" stroke="#111" stroke-width="0.5"/>
<path d="M494.6 339.2V345.4M491 339.2H498.2M491 345.4H498.2" stroke="#2c2311" stroke-width="1.0" fill="none"/>
<path d="M492.8 340.1L496.4 340.1L494.6 342.3Z M492.8 344.5L496.4 344.5L494.6 342.3Z" fill="#6e4512" stroke="#111" stroke-width="0.5"/>
<circle cx="494.6" cy="342.3" r="1.3" fill="#6e4512"/>
<path d="M384.4 323.3V402.1" stroke="#2a2a2a" stroke-width="1.25"/>
<path d="M383.8 402.1H513.3" stroke="#2a2a2a" stroke-width="1.25"/>
<path d="M381.3 325.8H384.4" stroke="#2a2a2a" stroke-width="1.2"/>
<text transform="translate(377.7 328.75) scale(0.93 1)" class="T">20</text>
<path d="M381.3 345H384.4" stroke="#2a2a2a" stroke-width="1.2"/>
<text transform="translate(377.7 347.95) scale(0.93 1)" class="T">15</text>
<path d="M381.3 364H384.4" stroke="#2a2a2a" stroke-width="1.2"/>
<text transform="translate(377.7 366.95) scale(0.93 1)" class="T">10</text>
<path d="M381.3 383.5H384.4" stroke="#2a2a2a" stroke-width="1.2"/>
<text transform="translate(377.7 386.45) scale(0.93 1)" class="T">5</text>
<path d="M381.3 402.1H384.4" stroke="#2a2a2a" stroke-width="1.2"/>
<text transform="translate(377.7 405.05) scale(0.93 1)" class="T">0</text>
<path d="M405 402.1V404.9" stroke="#2a2a2a" stroke-width="1.0"/>
<path d="M435 402.1V404.9" stroke="#2a2a2a" stroke-width="1.0"/>
<path d="M464.6 402.1V404.9" stroke="#2a2a2a" stroke-width="1.0"/>
<path d="M494.6 402.1V404.9" stroke="#2a2a2a" stroke-width="1.0"/>
<text transform="translate(405 415.7) scale(0.93 1)" class="X">DMSO</text>
<text transform="translate(435 415.7) scale(0.93 1)" class="X">MI-503</text>
<text transform="translate(464.6 415.7) scale(0.93 1)" class="X">DMSO</text>
<text transform="translate(494.6 415.7) scale(0.93 1)" class="X">MI-503</text>
<path d="M384 420H446.5M448.3 420H511" stroke="#585858" stroke-width="1.45"/>
<text transform="translate(420 430) scale(0.93 1)" class="X">NT</text>
<text transform="translate(479.6 430) scale(0.93 1)" class="X">I3KO</text>
<path d="M405.6 322.5H433.5" stroke="#444444" stroke-width="1.15"/>
<circle cx="419.55" cy="319" r="1.05" fill="#333"/>
<path d="M436.9 322.5H494.6" stroke="#444444" stroke-width="1.15"/>
<circle cx="462.85" cy="319" r="1.05" fill="#333"/>
<circle cx="465.75" cy="319" r="1.05" fill="#333"/>
<circle cx="468.65" cy="319" r="1.05" fill="#333"/>
<path d="M466.7 333.5H494.6" stroke="#444444" stroke-width="1.15"/>
<circle cx="480.65" cy="329.8" r="1.05" fill="#333"/>
<path d="M405.6 344.5H464.6" stroke="#444444" stroke-width="1.15"/>
<circle cx="432.2" cy="341.3" r="1.05" fill="#333"/>
<circle cx="435.1" cy="341.3" r="1.05" fill="#333"/>
<circle cx="438" cy="341.3" r="1.05" fill="#333"/>
<text transform="translate(361.1 362.1) rotate(-90)" x="0" y="0" class="Y" textLength="58.9" lengthAdjust="spacingAndGlyphs"><tspan font-style="italic">Pram1</tspan> (fold change)</text>
<text x="90.1" y="456.4" class="L">J</text>
<rect x="131.4" y="541.7" width="17.2" height="14.7" fill="#add59b" stroke="#a0cc8b" stroke-width="0.8"/>
<rect x="161.4" y="535" width="17.2" height="21.4" fill="#ea8d7e" stroke="#e37f6f" stroke-width="0.8"/>
<rect x="191.4" y="484.6" width="17.2" height="71.8" fill="#bcdaf5" stroke="#aacbed" stroke-width="0.8"/>
<rect x="221.4" y="488.3" width="17.2" height="68.1" fill="#fbc686" stroke="#f6b972" stroke-width="0.8"/>
<path d="M140 538.5V543.8M136.4 538.5H143.6M136.4 543.8H143.6" stroke="#1d5a22" stroke-width="1.0" fill="none"/>
<path d="M138.2 538.8L141.8 538.8L140 541Z M138.2 543.2L141.8 543.2L140 541Z" fill="#1f6b2a" stroke="#111" stroke-width="0.5"/>
<circle cx="140" cy="541" r="1.3" fill="#1f6b2a"/>
<path d="M167 534.2H173" stroke="#7d1518" stroke-width="0.9"/>
<circle cx="167.2" cy="534.2" r="1.6" fill="#7d1518" stroke="#111" stroke-width="0.5"/>
<circle cx="172.8" cy="534.2" r="1.6" fill="#7d1518" stroke="#111" stroke-width="0.5"/>
<path d="M197 483.9H203" stroke="#1f3d63" stroke-width="0.9"/>
<path d="M195.4 485.2L197.2 482.1L199 485.2Z" fill="#1f3d63" stroke="#111" stroke-width="0.5"/>
<path d="M201 485.2L202.8 482.1L204.6 485.2Z" fill="#1f3d63" stroke="#111" stroke-width="0.5"/>
<path d="M230 485.2V490M226.4 485.2H233.6M226.4 490H233.6" stroke="#2c2311" stroke-width="1.0" fill="none"/>
<path d="M228.2 485.4L231.8 485.4L230 487.6Z M228.2 489.8L231.8 489.8L230 487.6Z" fill="#6e4512" stroke="#111" stroke-width="0.5"/>
<circle cx="230" cy="487.6" r="1.3" fill="#6e4512"/>
<path d="M122.3 476.6V556.8" stroke="#2a2a2a" stroke-width="1.25"/>
<path d="M121.7 556.8H248.6" stroke="#2a2a2a" stroke-width="1.25"/>
<path d="M119.2 479H122.3" stroke="#2a2a2a" stroke-width="1.2"/>
<text transform="translate(116.4 481.95) scale(0.93 1)" class="T">5</text>
<path d="M119.2 494.4H122.3" stroke="#2a2a2a" stroke-width="1.2"/>
<text transform="translate(116.4 497.35) scale(0.93 1)" class="T">4</text>
<path d="M119.2 510.1H122.3" stroke="#2a2a2a" stroke-width="1.2"/>
<text transform="translate(116.4 513.05) scale(0.93 1)" class="T">3</text>
<path d="M119.2 525.6H122.3" stroke="#2a2a2a" stroke-width="1.2"/>
<text transform="translate(116.4 528.55) scale(0.93 1)" class="T">2</text>
<path d="M119.2 541.3H122.3" stroke="#2a2a2a" stroke-width="1.2"/>
<text transform="translate(116.4 544.25) scale(0.93 1)" class="T">1</text>
<path d="M119.2 556.8H122.3" stroke="#2a2a2a" stroke-width="1.2"/>
<text transform="translate(116.4 559.75) scale(0.93 1)" class="T">0</text>
<path d="M140 556.8V559.6" stroke="#2a2a2a" stroke-width="1.0"/>
<path d="M170 556.8V559.6" stroke="#2a2a2a" stroke-width="1.0"/>
<path d="M200 556.8V559.6" stroke="#2a2a2a" stroke-width="1.0"/>
<path d="M230 556.8V559.6" stroke="#2a2a2a" stroke-width="1.0"/>
<text transform="translate(140 570.4) scale(0.93 1)" class="X">DMSO</text>
<text transform="translate(170 570.4) scale(0.93 1)" class="X">MI-503</text>
<text transform="translate(200 570.4) scale(0.93 1)" class="X">DMSO</text>
<text transform="translate(230 570.4) scale(0.93 1)" class="X">MI-503</text>
<path d="M122 574.7H185M187.5 574.7H247.8" stroke="#585858" stroke-width="1.45"/>
<text transform="translate(155 584.7) scale(0.93 1)" class="X">NT</text>
<text transform="translate(215 584.7) scale(0.93 1)" class="X">I3KO</text>
<path d="M140.2 517.5H169.8" stroke="#444444" stroke-width="1.15"/>
<circle cx="155" cy="513.6" r="1.05" fill="#333"/>
<path d="M140.2 479.5H199.8" stroke="#444444" stroke-width="1.15"/>
<circle cx="165.65" cy="475.4" r="1.05" fill="#333"/>
<circle cx="168.55" cy="475.4" r="1.05" fill="#333"/>
<circle cx="171.45" cy="475.4" r="1.05" fill="#333"/>
<circle cx="174.35" cy="475.4" r="1.05" fill="#333"/>
<path d="M170.5 469.5H229.6" stroke="#444444" stroke-width="1.15"/>
<circle cx="195.7" cy="465.6" r="1.05" fill="#333"/>
<circle cx="198.6" cy="465.6" r="1.05" fill="#333"/>
<circle cx="201.5" cy="465.6" r="1.05" fill="#333"/>
<circle cx="204.4" cy="465.6" r="1.05" fill="#333"/>
<text transform="translate(105 515.9) rotate(-90)" x="0" y="0" class="Y" textLength="58.3" lengthAdjust="spacingAndGlyphs"><tspan font-style="italic">Cebpd</tspan> (fold change)</text>
<text x="263.2" y="456.5" class="L">K</text>
<rect x="312.75" y="556.3" width="16.9" height="0.1" fill="#add59b" stroke="#a0cc8b" stroke-width="0.8"/>
<rect x="342.55" y="549.2" width="16.9" height="7.2" fill="#ea8d7e" stroke="#e37f6f" stroke-width="0.8"/>
<rect x="372.35" y="505.2" width="16.9" height="51.2" fill="#bcdaf5" stroke="#aacbed" stroke-width="0.8"/>
<rect x="402.05" y="497" width="16.9" height="59.4" fill="#fbc686" stroke="#f6b972" stroke-width="0.8"/>
<path d="M318.2 555.8H324.2" stroke="#1f6b2a" stroke-width="0.9"/>
<circle cx="318.4" cy="555.8" r="1.6" fill="#1f6b2a" stroke="#111" stroke-width="0.5"/>
<circle cx="324" cy="555.8" r="1.6" fill="#1f6b2a" stroke="#111" stroke-width="0.5"/>
<path d="M348 548.4H354" stroke="#7d1518" stroke-width="0.9"/>
<circle cx="348.2" cy="548.4" r="1.6" fill="#7d1518" stroke="#111" stroke-width="0.5"/>
<circle cx="353.8" cy="548.4" r="1.6" fill="#7d1518" stroke="#111" stroke-width="0.5"/>
<path d="M377.8 504.5H383.8" stroke="#1f3d63" stroke-width="0.9"/>
<path d="M376.2 505.8L378 502.7L379.8 505.8Z" fill="#1f3d63" stroke="#111" stroke-width="0.5"/>
<path d="M381.8 505.8L383.6 502.7L385.4 505.8Z" fill="#1f3d63" stroke="#111" stroke-width="0.5"/>
<path d="M410.5 492.4V501.5M406.9 492.4H414.1M406.9 501.5H414.1" stroke="#2c2311" stroke-width="1.0" fill="none"/>
<path d="M408.7 494.4L412.3 494.4L410.5 496.6Z M408.7 498.8L412.3 498.8L410.5 496.6Z" fill="#6e4512" stroke="#111" stroke-width="0.5"/>
<circle cx="410.5" cy="496.6" r="1.3" fill="#6e4512"/>
<path d="M303.1 476.4V556.8" stroke="#2a2a2a" stroke-width="1.25"/>
<path d="M302.5 556.8H428.5" stroke="#2a2a2a" stroke-width="1.25"/>
<path d="M300 479.2H303.1" stroke="#2a2a2a" stroke-width="1.2"/>
<text transform="translate(297.3 482.15) scale(0.93 1)" class="T">80</text>
<path d="M300 498.5H303.1" stroke="#2a2a2a" stroke-width="1.2"/>
<text transform="translate(297.3 501.45) scale(0.93 1)" class="T">60</text>
<path d="M300 517.9H303.1" stroke="#2a2a2a" stroke-width="1.2"/>
<text transform="translate(297.3 520.85) scale(0.93 1)" class="T">40</text>
<path d="M300 537.5H303.1" stroke="#2a2a2a" stroke-width="1.2"/>
<text transform="translate(297.3 540.45) scale(0.93 1)" class="T">20</text>
<path d="M300 556.9H303.1" stroke="#2a2a2a" stroke-width="1.2"/>
<text transform="translate(297.3 559.85) scale(0.93 1)" class="T">0</text>
<path d="M321.2 556.8V559.6" stroke="#2a2a2a" stroke-width="1.0"/>
<path d="M351 556.8V559.6" stroke="#2a2a2a" stroke-width="1.0"/>
<path d="M380.8 556.8V559.6" stroke="#2a2a2a" stroke-width="1.0"/>
<path d="M410.5 556.8V559.6" stroke="#2a2a2a" stroke-width="1.0"/>
<text transform="translate(321.2 570.4) scale(0.93 1)" class="X">DMSO</text>
<text transform="translate(351 570.4) scale(0.93 1)" class="X">MI-503</text>
<text transform="translate(380.8 570.4) scale(0.93 1)" class="X">DMSO</text>
<text transform="translate(410.5 570.4) scale(0.93 1)" class="X">MI-503</text>
<path d="M300.9 574.7H363.7M366.3 574.7H427.5" stroke="#585858" stroke-width="1.45"/>
<text transform="translate(336.1 584.7) scale(0.93 1)" class="X">NT</text>
<text transform="translate(395.65 584.7) scale(0.93 1)" class="X">I3KO</text>
<path d="M321.2 496.5H380.2" stroke="#444444" stroke-width="1.15"/>
<circle cx="346.35" cy="492.4" r="1.05" fill="#333"/>
<circle cx="349.25" cy="492.4" r="1.05" fill="#333"/>
<circle cx="352.15" cy="492.4" r="1.05" fill="#333"/>
<circle cx="355.05" cy="492.4" r="1.05" fill="#333"/>
<path d="M350.8 484.5H410" stroke="#444444" stroke-width="1.15"/>
<circle cx="376.05" cy="481.1" r="1.05" fill="#333"/>
<circle cx="378.95" cy="481.1" r="1.05" fill="#333"/>
<circle cx="381.85" cy="481.1" r="1.05" fill="#333"/>
<circle cx="384.75" cy="481.1" r="1.05" fill="#333"/>
<text transform="translate(281.5 516.2) rotate(-90)" x="0" y="0" class="Y" textLength="57.7" lengthAdjust="spacingAndGlyphs"><tspan font-style="italic">Cebpe</tspan> (fold change)</text>
<rect x="0.5" y="0.5" width="519" height="592" fill="none" stroke="#4d4d4d" stroke-width="1.1"/>
</svg>
</body></html>
